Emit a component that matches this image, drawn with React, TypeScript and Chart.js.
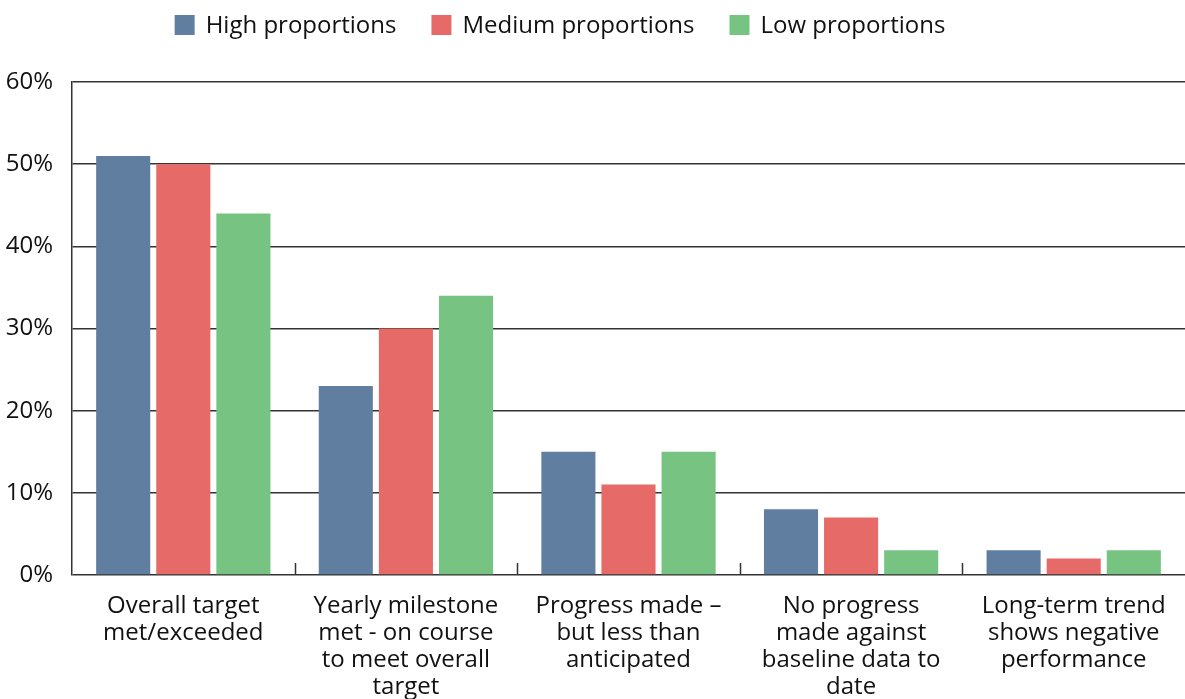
import React, { useEffect, useRef } from "react";
import { Chart, registerables } from "chart.js";

Chart.register(...registerables);

// Outcome categories (multi-line axis labels)
const categories: string[][] = [
  ["Overall target", "met/exceeded"],
  ["Yearly milestone", "met - on course", "to meet overall", "target"],
  ["Progress made –", "but less than", "anticipated"],
  ["No progress", "made against", "baseline data to", "date"],
  ["Long-term trend", "shows negative", "performance"],
];

// Share of indicators in each outcome, by proportion group (%)
const highProportions = [51, 23, 15, 8, 3];
const mediumProportions = [50, 30, 11, 7, 2];
const lowProportions = [44, 34, 15, 3, 3];

const seriesNames = ["High proportions", "Medium proportions", "Low proportions"];
const seriesColors = ["#5f7ea0", "#e66a68", "#77c482"];

const yMin = 0;
const yMax = 60;
const yStep = 10;

const FONT_FAMILY = "'Open Sans', 'Noto Sans', sans-serif";
const FONT_SIZE = 24;
const TEXT_COLOR = "#111111";
const LINE_COLOR = "#333333";

// Legend row drawn across the top of the canvas
const topLegend = {
  id: "topLegend",
  afterDraw(chart: Chart) {
    const ctx = chart.ctx;
    ctx.save();
    ctx.font = `${FONT_SIZE}px ${FONT_FAMILY}`;
    ctx.textBaseline = "middle";
    ctx.textAlign = "left";
    const box = 20;
    const textGap = 11;
    const itemGap = 35;
    const items = chart.data.datasets.map((ds) => ({
      label: String(ds.label),
      color: String(ds.backgroundColor),
      w: ctx.measureText(String(ds.label)).width,
    }));
    const total =
      items.reduce((s, it) => s + box + textGap + it.w, 0) + itemGap * (items.length - 1);
    let x = 560 - total / 2;
    const cy = 25;
    for (const it of items) {
      ctx.fillStyle = it.color;
      ctx.fillRect(x, cy - box / 2, box, box);
      x += box + textGap;
      ctx.fillStyle = TEXT_COLOR;
      ctx.fillText(it.label, x, cy + 1);
      x += it.w + itemGap;
    }
    ctx.restore();
  },
};

// Short upward tick marks between category groups on the baseline
const categoryDividers = {
  id: "categoryDividers",
  beforeDatasetsDraw(chart: Chart) {
    const xs = chart.scales.x;
    const bottom = chart.chartArea.bottom;
    const ctx = chart.ctx;
    ctx.save();
    ctx.strokeStyle = LINE_COLOR;
    ctx.lineWidth = 1.5;
    for (let i = 1; i < categories.length; i++) {
      const px = Math.round((xs.getPixelForValue(i - 1) + xs.getPixelForValue(i)) / 2) + 0.5;
      ctx.beginPath();
      ctx.moveTo(px, bottom);
      ctx.lineTo(px, bottom - 12);
      ctx.stroke();
    }
    ctx.restore();
  },
};

export default function App() {
  const canvasRef = useRef<HTMLCanvasElement | null>(null);

  useEffect(() => {
    if (!canvasRef.current) return;
    const series = [highProportions, mediumProportions, lowProportions];
    const chart = new Chart(canvasRef.current, {
      type: "bar",
      data: {
        labels: categories,
        datasets: series.map((values, i) => ({
          label: seriesNames[i],
          data: values,
          backgroundColor: seriesColors[i],
          borderWidth: 0,
          categoryPercentage: 0.81,
          barPercentage: 0.9,
        })),
      },
      options: {
        animation: false,
        responsive: true,
        maintainAspectRatio: false,
        layout: { padding: { top: 82, right: 0, left: 0, bottom: 0 } },
        plugins: {
          legend: { display: false },
          tooltip: { enabled: false },
        },
        scales: {
          x: {
            grid: { display: false, drawTicks: false },
            border: { display: false },
            ticks: {
              color: TEXT_COLOR,
              font: { family: FONT_FAMILY, size: FONT_SIZE, lineHeight: 1.12 },
              padding: 18,
              maxRotation: 0,
              autoSkip: false,
            },
            afterFit(scale: any) {
              scale.height = 124;
            },
          },
          y: {
            min: yMin,
            max: yMax,
            grid: { color: LINE_COLOR, lineWidth: 1.5, drawTicks: false },
            border: { display: true, color: LINE_COLOR, width: 1.5 },
            ticks: {
              stepSize: yStep,
              color: TEXT_COLOR,
              font: { family: FONT_FAMILY, size: FONT_SIZE },
              padding: 19,
              callback: (v: any) => `${v}%`,
            },
            afterFit(scale: any) {
              scale.width = 72;
            },
          },
        },
      },
      plugins: [topLegend, categoryDividers],
    });
    return () => chart.destroy();
  }, []);

  return (
    <div style={{ position: "absolute", left: 0, top: 0, width: 1185, height: 699, background: "#ffffff" }}>
      <canvas ref={canvasRef} />
    </div>
  );
}
